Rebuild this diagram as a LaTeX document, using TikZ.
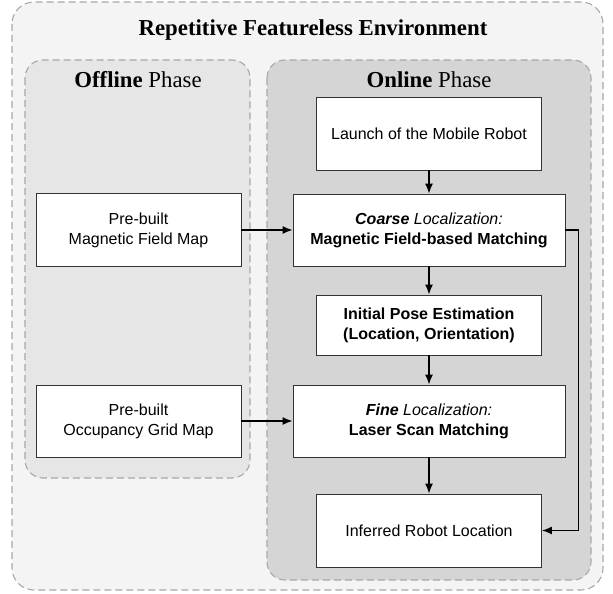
\documentclass[tikz,border=0pt]{standalone}
\usepackage{fontspec}
\setmainfont{Liberation Serif}
\setsansfont{Liberation Sans}
\usetikzlibrary{arrows.meta}
\definecolor{outerfill}{HTML}{F4F4F4}
\definecolor{offfill}{HTML}{E6E6E6}
\definecolor{onfill}{HTML}{D5D5D5}
\definecolor{dashcol}{HTML}{A8A8A8}
\definecolor{boxline}{HTML}{333333}
\tikzset{
  panel/.style={draw=dashcol, dash pattern=on 7pt off 4pt, line width=1.1pt, rounded corners=18pt},
  stepbox/.style={draw=boxline, fill=white, line width=0.9pt, align=center, inner sep=0pt,
    font=\sffamily\fontsize{16}{20}\selectfont},
  heading/.style={font=\fontsize{22.8}{26}\selectfont, inner sep=0pt},
  arr/.style={-{Latex[length=10pt,width=8pt]}, line width=1.4pt, black}
}
\begin{document}
\begin{tikzpicture}[x=1pt,y=-1pt]
\useasboundingbox (0,0) rectangle (613,594);
% panels
\draw[panel, fill=outerfill, rounded corners=22pt] (12,2) rectangle (603,590);
\draw[panel, fill=offfill] (25,60) rectangle (250,478);
\draw[panel, fill=onfill] (267,60) rectangle (591,580);
% headings
\node[heading] (title) at (313,30) {\bfseries Repetitive Featureless Environment};
\node[heading] (offh) at (138,80) {\textbf{Offline} Phase};
\node[heading] (onh) at (429,80) {\textbf{Online} Phase};
% boxes
\node[stepbox, minimum width=225pt, minimum height=73pt] (launch) at (429,133.5) {Launch of the Mobile Robot};
\node[stepbox, minimum width=272pt, minimum height=72pt] (coarse) at (429,230) {\textbf{\textit{Coarse}} \textit{Localization:}\\\textbf{Magnetic Field-based Matching}};
\node[stepbox, minimum width=225pt, minimum height=60pt] (init) at (429,325) {\textbf{Initial Pose Estimation}\\\textbf{(Location, Orientation)}};
\node[stepbox, minimum width=272pt, minimum height=72pt] (fine) at (429,421) {\textbf{\textit{Fine}} \textit{Localization:}\\\textbf{Laser Scan Matching}};
\node[stepbox, minimum width=225pt, minimum height=73pt] (inferred) at (429,530.5) {Inferred Robot Location};
\node[stepbox, minimum width=205pt, minimum height=73pt] (mfm) at (138.5,230) {Pre-built\\Magnetic Field Map};
\node[stepbox, minimum width=205pt, minimum height=72pt] (ogm) at (138.5,421) {Pre-built\\Occupancy Grid Map};
% connectors
\draw[arr] (launch.south) -- (coarse.north);
\draw[arr] (coarse.south) -- (init.north);
\draw[arr] (init.south) -- (fine.north);
\draw[arr] (fine.south) -- (inferred.north);
\draw[arr] (mfm.east) -- (coarse.west);
\draw[arr] (ogm.east) -- (fine.west);
\draw[arr] (coarse.east) -- ++(13,0) |- (inferred.east);
\end{tikzpicture}
\end{document}
